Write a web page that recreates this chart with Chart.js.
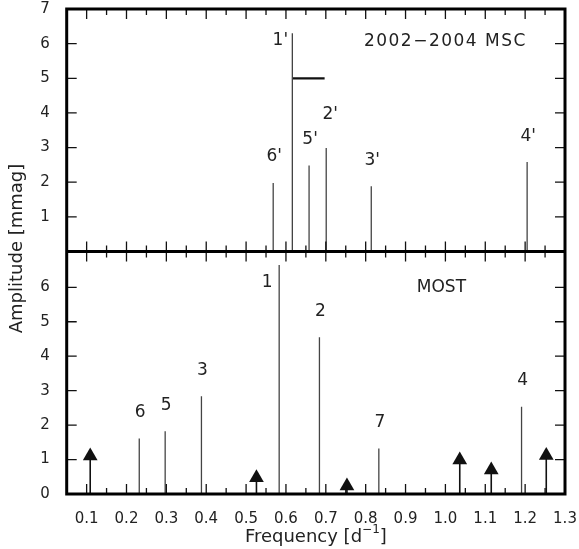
<!DOCTYPE html>
<html lang="en">
<head>
<meta charset="UTF-8">
<title>Amplitude spectra</title>
<script src="https://cdn.jsdelivr.net/npm/chart.js"></script>
<style>
  body { margin: 0; background: #fff; }
  #wrap { position: relative; width: 579px; height: 549px; }
</style>
</head>
<body>
<div id="wrap"><canvas id="grafico"></canvas></div>
<script>
// 2002-2004 MSC peaks (top panel)
const mscNomes = ["6'", "1'", "5'", "2'", "3'", "4'"];
const mscFreq = [0.568, 0.616, 0.658, 0.701, 0.814, 1.205];
const mscAmp = [1.98, 6.30, 2.48, 2.99, 1.88, 2.58];
// horizontal bar hanging off 1'
const barraFreq = [0.616, 0.697];
const barraAmp = [5.0, 5.0];

// MOST peaks (bottom panel)
const mostNomes = ["6", "5", "3", "1", "2", "7", "4"];
const mostFreq = [0.232, 0.297, 0.388, 0.583, 0.684, 0.833, 1.191];
const mostAmp = [1.61, 1.82, 2.84, 6.65, 4.55, 1.32, 2.53];

// arrows (bottom panel)
const setaFreq = [0.109, 0.526, 0.753, 1.036, 1.115, 1.253];
const setaAmp = [1.10, 0.47, 0.23, 0.99, 0.70, 1.12];

const xTicks = [0.1, 0.2, 0.3, 0.4, 0.5, 0.6, 0.7, 0.8, 0.9, 1.0, 1.1, 1.2, 1.3];
const yTopTicks = [1, 2, 3, 4, 5, 6, 7];
const yBotTicks = [0, 1, 2, 3, 4, 5, 6];

const FONTE = "'DejaVu Sans', sans-serif";

function hastes(freq, amp) {
    let pts = [];
    for (let i = 0; i < freq.length; i++) {
        pts.push({x: freq[i], y: 0});
        pts.push({x: freq[i], y: amp[i]});
        pts.push({x: freq[i], y: null});
    }
    return pts;
}

function pares(freq, amp) {
    return freq.map(function (f, i) { return {x: f, y: amp[i]}; });
}

// no extra padding from the scales, the layout padding decides
function semPadding(s) {
    s.paddingTop = 0; s.paddingBottom = 0; s.paddingLeft = 0; s.paddingRight = 0;
}

// label offsets in pixels (default: centred above the peak)
const desloc = {"1'": [-12, 7], "1": [-12, 18], "2'": [4, -33]};

const molduraPlugin = {
    id: 'moldura',
    afterDraw(chart) {
        const ctx = chart.ctx;
        const a = chart.chartArea;
        const x = chart.scales.x, yT = chart.scales.yTop, yB = chart.scales.yBot;
        const meio = yT.getPixelForValue(0);
        ctx.save();
        ctx.strokeStyle = '#111';
        ctx.lineWidth = 1.3;
        ctx.beginPath();
        for (let k = 1; k < 25; k++) {
            const v = 0.05 + k * 0.05;
            const px = x.getPixelForValue(v);
            const len = (k % 2 === 1) ? 10 : 6;
            ctx.moveTo(px, a.top); ctx.lineTo(px, a.top + len);
            ctx.moveTo(px, meio - len); ctx.lineTo(px, meio + len);
            ctx.moveTo(px, a.bottom); ctx.lineTo(px, a.bottom - len);
        }
        for (let v = 1; v <= 6; v++) {
            [yT.getPixelForValue(v), yB.getPixelForValue(v)].forEach(function (py) {
                ctx.moveTo(a.left, py); ctx.lineTo(a.left + 10, py);
                ctx.moveTo(a.right, py); ctx.lineTo(a.right - 10, py);
            });
        }
        ctx.stroke();

        ctx.lineWidth = 3;
        ctx.strokeStyle = '#000';
        ctx.strokeRect(a.left, a.top, a.right - a.left, a.bottom - a.top);
        ctx.beginPath();
        ctx.moveTo(a.left, meio); ctx.lineTo(a.right, meio);
        ctx.stroke();

        // peak labels
        ctx.fillStyle = '#222';
        ctx.font = '17px ' + FONTE;
        ctx.textAlign = 'center';
        ctx.textBaseline = 'middle';
        function rotulos(nomes, freq, amp, eixo) {
            for (let i = 0; i < nomes.length; i++) {
                const d = desloc[nomes[i]] || [1, -26];
                ctx.fillText(nomes[i], x.getPixelForValue(freq[i]) + d[0], eixo.getPixelForValue(amp[i]) + d[1]);
            }
        }
        rotulos(mscNomes, mscFreq, mscAmp, yT);
        rotulos(mostNomes, mostFreq, mostAmp, yB);
        ctx.fillText('MOST', x.getPixelForValue(0.99), yB.getPixelForValue(6.0));
        ctx.letterSpacing = '1.5px';
        ctx.fillText('2002\u22122004 MSC', x.getPixelForValue(1.0), yT.getPixelForValue(6.06));
        ctx.letterSpacing = '0px';

        // axis titles
        ctx.font = '18px ' + FONTE;
        ctx.save();
        ctx.translate(17, meio - 3);
        ctx.rotate(-Math.PI / 2);
        ctx.fillText('Amplitude [mmag]', 0, 0);
        ctx.restore();

        const cx = (a.left + a.right) / 2;
        const ty = 537;
        const t1 = 'Frequency [d', t2 = '\u22121', t3 = ']';
        ctx.font = '18px ' + FONTE;
        const w1 = ctx.measureText(t1).width, w3 = ctx.measureText(t3).width;
        ctx.font = '12px ' + FONTE;
        const w2 = ctx.measureText(t2).width;
        let sx = cx - (w1 + w2 + w3) / 2;
        ctx.textAlign = 'left';
        ctx.font = '18px ' + FONTE;
        ctx.fillText(t1, sx, ty);
        ctx.font = '12px ' + FONTE;
        ctx.fillText(t2, sx + w1, ty - 7);
        ctx.font = '18px ' + FONTE;
        ctx.fillText(t3, sx + w1 + w2, ty);
        ctx.restore();
    }
};

const config = {
    type: 'scatter',
    data: {
        datasets: [
            {
                data: hastes(mscFreq, mscAmp), yAxisID: 'yTop', showLine: true, spanGaps: false,
                borderColor: '#444', borderWidth: 1.3, pointRadius: 0
            },
            {
                data: pares(barraFreq, barraAmp), yAxisID: 'yTop', showLine: true,
                borderColor: '#111', borderWidth: 2.2, pointRadius: 0
            },
            {
                data: hastes(mostFreq, mostAmp), yAxisID: 'yBot', showLine: true, spanGaps: false,
                borderColor: '#444', borderWidth: 1.3, pointRadius: 0
            },
            {
                data: hastes(setaFreq, setaAmp), yAxisID: 'yBot', showLine: true, spanGaps: false,
                borderColor: '#111', borderWidth: 1.6, pointRadius: 0
            },
            {
                data: pares(setaFreq, setaAmp), yAxisID: 'yBot', showLine: false,
                pointStyle: 'triangle', pointRadius: 8.5, borderWidth: 0,
                backgroundColor: '#111', borderColor: '#111'
            }
        ]
    },
    options: {
        responsive: true,
        maintainAspectRatio: false,
        animation: false,
        layout: { padding: { top: 9, right: 14, left: 0, bottom: 0 } },
        plugins: { legend: { display: false }, tooltip: { enabled: false } },
        scales: {
            x: {
                type: 'linear', min: 0.05, max: 1.3,
                grid: { display: false }, border: { display: false },
                afterBuildTicks: function (s) { s.ticks = xTicks.map(function (v) { return {value: v}; }); },
                afterFit: function (s) { s.height = 55; semPadding(s); },
                ticks: {
                    autoSkip: false, maxRotation: 0, padding: 8, color: '#222',
                    font: { family: FONTE, size: 15 },
                    callback: function (v) { return Number(v).toFixed(1); }
                }
            },
            yBot: {
                type: 'linear', position: 'left', stack: 'painel', stackWeight: 1,
                min: 0, max: 7.04,
                grid: { display: false }, border: { display: false },
                afterBuildTicks: function (s) { s.ticks = yBotTicks.map(function (v) { return {value: v}; }); },
                afterFit: function (s) { s.width = 66.7; semPadding(s); },
                ticks: { padding: 9, color: '#222', font: { family: FONTE, size: 15 } }
            },
            yTop: {
                type: 'linear', position: 'left', stack: 'painel', stackWeight: 1,
                min: 0, max: 7,
                grid: { display: false }, border: { display: false },
                afterBuildTicks: function (s) { s.ticks = yTopTicks.map(function (v) { return {value: v}; }); },
                afterFit: function (s) { s.width = 66.7; semPadding(s); },
                ticks: { padding: 9, color: '#222', font: { family: FONTE, size: 15 } }
            }
        }
    },
    plugins: [molduraPlugin]
};

const grafico = new Chart(document.getElementById('grafico'), config);
</script>
</body>
</html>
